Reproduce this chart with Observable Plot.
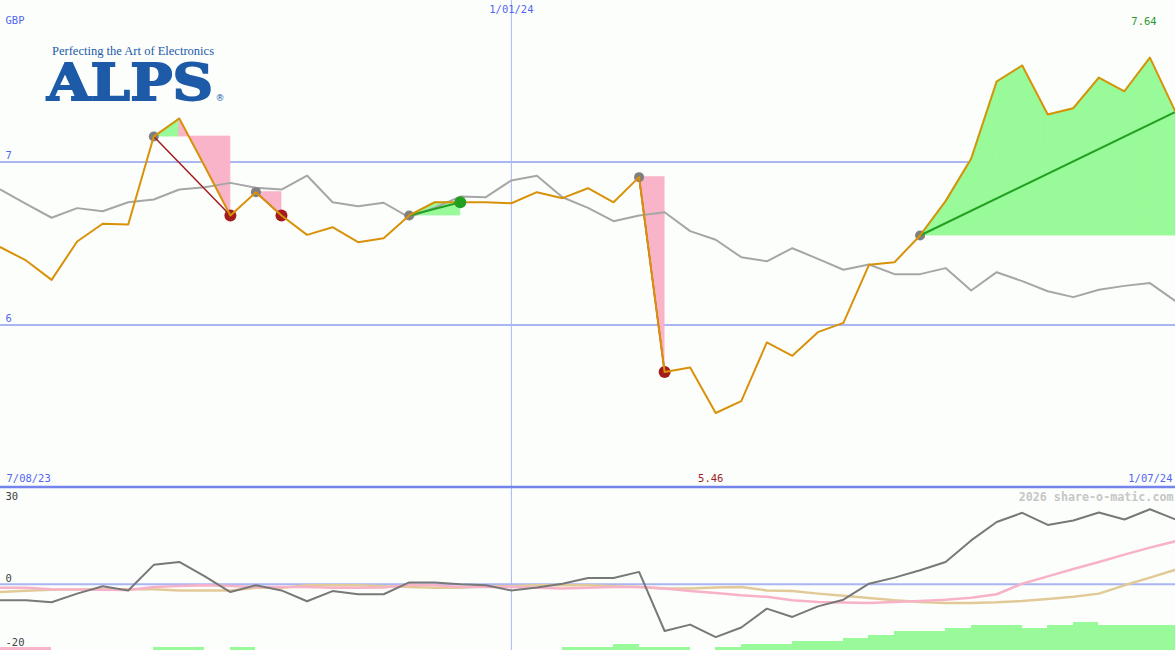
<!DOCTYPE html>
<html><head><meta charset="utf-8">
<script src="https://cdn.jsdelivr.net/npm/d3@7"></script>
<script src="https://cdn.jsdelivr.net/npm/@observablehq/plot@0.6"></script>
<style>
html,body{margin:0;padding:0;background:#fcfefc;}
#wrap{position:relative;width:1175px;height:650px;overflow:hidden;background:#fcfefc;}
#wrap > svg{display:block;}
#logo{position:absolute;left:0;top:0;pointer-events:none;}
</style></head><body><div id="wrap"></div>
<script>
// ---- data ----
const weeks = ["2023-08-14","2023-08-21","2023-08-28","2023-09-04","2023-09-11","2023-09-18","2023-09-25",
"2023-10-02","2023-10-09","2023-10-16","2023-10-23","2023-10-30","2023-11-06","2023-11-13","2023-11-20","2023-11-27",
"2023-12-04","2023-12-11","2023-12-18","2023-12-25","2024-01-01","2024-01-08","2024-01-15","2024-01-22","2024-01-29",
"2024-02-05","2024-02-12","2024-02-19","2024-02-26","2024-03-04","2024-03-11","2024-03-18","2024-03-25","2024-04-01",
"2024-04-08","2024-04-15","2024-04-22","2024-04-29","2024-05-06","2024-05-13","2024-05-20","2024-05-27","2024-06-03",
"2024-06-10","2024-06-17","2024-06-24","2024-07-01"];
const price = [6.477,6.396,6.277,6.512,6.621,6.617,7.156,7.267,6.972,6.672,6.815,6.672,6.553,6.600,6.508,6.532,
6.672,6.753,6.753,6.753,6.747,6.815,6.778,6.839,6.753,6.907,5.711,5.739,5.46,5.533,5.893,5.811,5.956,6.013,6.369,
6.385,6.549,6.760,7.020,7.494,7.592,7.291,7.330,7.518,7.434,7.64,7.308];
const indexLine = [6.831,6.743,6.658,6.717,6.698,6.753,6.770,6.831,6.845,6.872,6.842,6.831,6.917,6.753,6.728,6.750,
6.661,6.720,6.788,6.784,6.887,6.915,6.784,6.719,6.637,6.672,6.692,6.576,6.523,6.416,6.391,6.471,6.406,6.339,6.371,
6.312,6.312,6.349,6.212,6.324,6.269,6.207,6.171,6.216,6.240,6.257,6.146];
const momentum = [-5.0,-5.0,-5.6,-2.9,-0.6,-1.9,6.1,7.0,2.5,-2.4,-0.3,-1.9,-5.3,-2.1,-3.1,-3.1,0.6,0.6,0.0,-0.3,
-1.9,-1.0,0.2,2.0,2.0,3.9,-14.6,-12.6,-16.5,-13.5,-7.6,-10.2,-6.9,-4.8,0.2,2.1,4.4,7.0,13.75,19.5,22.4,18.6,20.0,
22.5,20.3,23.5,20.3];
const avgFast = [-1.1,-1.1,-1.5,-1.6,-1.7,-1.8,-0.8,-0.5,-0.3,-0.5,-0.8,-0.8,-0.8,-1.1,-1.1,-1.0,-0.1,-0.3,-0.8,-0.8,
-0.8,-1.1,-1.3,-1.1,-0.8,-0.8,-1.3,-2.1,-2.7,-3.4,-3.9,-5.0,-5.5,-5.7,-5.8,-5.5,-5.2,-4.8,-4.2,-3.1,0.2,2.5,4.8,
7.0,9.3,11.5,13.5];
const avgSlow = [-2.4,-2.0,-1.7,-1.6,-1.5,-1.5,-1.5,-1.9,-1.9,-1.9,-1.1,-1.1,-0.3,-0.3,-0.3,-0.6,-0.8,-1.1,-1.1,-0.6,
-0.6,-0.3,-0.3,-0.3,-0.6,-0.8,-1.3,-1.3,-1.0,-0.8,-1.9,-2.1,-2.9,-3.6,-4.3,-5.0,-5.5,-5.8,-5.8,-5.6,-5.2,-4.6,-3.9,
-2.9,-0.3,2.1,4.6];
const signalLevel = [-1,-1,0,0,0,0,1,1,0,1,0,0,0,0,0,0,0,0,0,0,0,0,1,1,2,1,1,0,1,2,2,3,3,4,5,6,6,7,8,8,7,8,9,8,8,8];
const tradeEntries = ["2023-09-25","2023-10-23","2023-12-04","2024-02-05","2024-04-22"];
const tradeExits   = ["2023-10-16","2023-10-30","2023-12-18","2024-02-12", null];
const priceTicks = [7, 6];
const lowTicks = [30, 0, -20];
const dateMarker = "2024-01-01";
const dateMarkerLabel = "1/01/24";
const edgeLabels = ["7/08/23", "1/07/24"];
const currency = "GBP";
const watermark = "2026 share-o-matic.com";
const logoTagline = "Perfecting the Art of Electronics";
const logoName = "ALPS";

// ---- derived tables ----
const D = s => new Date(s + "T00:00:00Z");
const dates = weeks.map(D);
const rows = dates.map((d, i) => ({date: d, price: price[i], idx: indexLine[i], mom: momentum[i], fast: avgFast[i], slow: avgSlow[i]}));
const last = weeks.length - 1;
const trades = tradeEntries.map((e, t) => {
  const i0 = weeks.indexOf(e);
  const i1 = tradeExits[t] ? weeks.indexOf(tradeExits[t]) : last;
  const base = price[i0], end = price[i1];
  return {i0, i1, base, end, win: end > base, open: !tradeExits[t], d0: dates[i0], d1: dates[i1]};
});
const segPts = [];
trades.forEach((tr, t) => {
  for (let i = tr.i0; i < tr.i1; i++) {
    const up = price[i + 1] > tr.base;
    segPts.push({seg: t + "-" + i, up, date: dates[i], base: tr.base, v: price[i]});
    segPts.push({seg: t + "-" + i, up, date: dates[i + 1], base: tr.base, v: price[i + 1]});
  }
});
const bars = signalLevel.map((lv, i) => ({d0: dates[i], d1: dates[i + 1], lv}));
const iMax = price.indexOf(d3.max(price)), iMin = price.indexOf(d3.min(price));

const BLUE = "#5266f0", GRID = "#a9b6f2", AXIS = "#7384ec";
const GREEN_FILL = "#98fa98", PINK_FILL = "#f9b4c9";
const ORANGE = "#d8920a", GREY = "#a6a6a6";
const DARKRED = "#a31c1c", GREEN = "#22a022";
const font = "DejaVu Sans Mono";
const xScale = {type: "utc", domain: [dates[0], dates[last]], range: [0, 1175], axis: null};

const main = Plot.plot({
  width: 1175, height: 489, margin: 0,
  style: {background: "#fcfefc", fontFamily: font, fontSize: "10.5px"},
  x: xScale,
  y: {domain: [5, 8], range: [487.5, -1.5], axis: null},
  color: {type: "identity"},
  marks: [
    Plot.ruleY(priceTicks, {stroke: GRID, strokeWidth: 2}),
    Plot.ruleX([D(dateMarker)], {stroke: GRID, strokeWidth: 1}),
    Plot.areaY(segPts.filter(p => p.up), {x: "date", y1: "base", y2: "v", z: "seg", fill: GREEN_FILL, stroke: GREEN_FILL, strokeWidth: 0.8, curve: "linear"}),
    Plot.areaY(segPts.filter(p => !p.up), {x: "date", y1: "base", y2: "v", z: "seg", fill: PINK_FILL, stroke: PINK_FILL, strokeWidth: 0.8, curve: "linear"}),
    Plot.line(rows, {x: "date", y: "idx", stroke: GREY, strokeWidth: 2}),
    Plot.dot(trades, {x: "d0", y: "base", r: 5, fill: "#808080"}),
    Plot.dot(trades.filter(t => !t.open && !t.win), {x: "d1", y: "end", r: 6, fill: DARKRED}),
    Plot.link(trades, {x1: "d0", y1: "base", x2: "d1", y2: "end", stroke: t => t.win ? GREEN : DARKRED, strokeWidth: t => t.win ? 2 : 1.5}),
    Plot.line(rows, {x: "date", y: "price", stroke: ORANGE, strokeWidth: 2}),
    Plot.dot(trades.filter(t => !t.open && t.win), {x: "d1", y: "end", r: 6, fill: GREEN}),
    Plot.ruleY([5], {stroke: AXIS, strokeWidth: 2.5, dy: -1}),
    Plot.text(priceTicks, {y: d => d, frameAnchor: "left", textAnchor: "start", lineAnchor: "middle", dx: 5, dy: -6, text: d => String(d), fill: BLUE}),
    Plot.text([currency], {frameAnchor: "top-left", textAnchor: "start", lineAnchor: "middle", dx: 5, dy: 20.5, text: d => d, fill: BLUE}),
    Plot.text([D(dateMarker)], {x: d => d, frameAnchor: "top", lineAnchor: "middle", dy: 9.5, text: () => dateMarkerLabel, fill: BLUE}),
    Plot.text([rows[iMax]], {x: "date", frameAnchor: "top", lineAnchor: "middle", dx: -6, dy: 21, text: d => d.price.toFixed(2), fill: "#2a9a2a"}),
    Plot.text([rows[iMin]], {x: "date", frameAnchor: "bottom", lineAnchor: "middle", dx: -5, dy: -10.5, text: d => d.price.toFixed(2), fill: "#a01c1c"}),
    Plot.text([edgeLabels[0]], {frameAnchor: "bottom-left", textAnchor: "start", lineAnchor: "middle", dx: 6, dy: -10.5, text: d => d, fill: BLUE}),
    Plot.text([edgeLabels[1]], {frameAnchor: "bottom-right", textAnchor: "end", lineAnchor: "middle", dx: -3, dy: -10.5, text: d => d, fill: BLUE})
  ]
});

const lowFloor = -20.7;
const lower = Plot.plot({
  width: 1175, height: 161, margin: 0,
  style: {background: "#fcfefc", fontFamily: font, fontSize: "10.5px"},
  x: xScale,
  y: {domain: [lowFloor, 30], range: [161, -1], axis: null},
  color: {type: "identity"},
  marks: [
    Plot.rect(bars.filter(b => b.lv !== 0), {x1: "d0", x2: "d1", y1: lowFloor, y2: b => lowFloor + Math.abs(b.lv) * 0.97, fill: b => b.lv > 0 ? GREEN_FILL : PINK_FILL, shapeRendering: "crispEdges"}),
    Plot.ruleY([0], {stroke: GRID, strokeWidth: 2}),
    Plot.ruleX([D(dateMarker)], {stroke: GRID, strokeWidth: 1}),
    Plot.line(rows, {x: "date", y: "slow", stroke: "#e2ca98", strokeWidth: 2.5}),
    Plot.line(rows, {x: "date", y: "fast", stroke: "#f8b2c8", strokeWidth: 2.5}),
    Plot.line(rows, {x: "date", y: "mom", stroke: "#787878", strokeWidth: 2}),
    Plot.text([lowTicks[0]], {frameAnchor: "top-left", textAnchor: "start", lineAnchor: "middle", dx: 5, dy: 7.5, text: d => String(d), fill: "#404040"}),
    Plot.text(lowTicks.slice(1), {y: d => d, frameAnchor: "left", textAnchor: "start", lineAnchor: "middle", dx: 5, dy: -6, text: d => String(d), fill: "#404040"}),
    Plot.text([watermark], {frameAnchor: "top-right", textAnchor: "end", lineAnchor: "middle", dx: -2, dy: 8, text: d => d, fill: "#c6c6c6", fontWeight: "bold", fontSize: 11.7})
  ]
});

const wrap = document.getElementById("wrap");
wrap.appendChild(main);
wrap.appendChild(lower);

// logo (text-based)
const ns = "http://www.w3.org/2000/svg";
const logo = document.createElementNS(ns, "svg");
logo.setAttribute("id", "logo");
logo.setAttribute("width", 1175); logo.setAttribute("height", 120);
function t(txt, attrs) {
  const el = document.createElementNS(ns, "text");
  for (const k in attrs) el.setAttribute(k, attrs[k]);
  el.textContent = txt; logo.appendChild(el);
}
t(logoTagline, {x: 52, y: 54.5, "font-family": "Liberation Serif", "font-size": 12.8, fill: "#1d5ba8", textLength: 162, lengthAdjust: "spacingAndGlyphs"});
t(logoName, {x: 47, y: 100, "font-family": "DejaVu Serif", "font-weight": "bold", "font-size": 50, fill: "#1d5ba8", stroke: "#1d5ba8", "stroke-width": 1.8, textLength: 166, lengthAdjust: "spacingAndGlyphs"});
t("\u00AE", {x: 215.5, y: 101, "font-family": "DejaVu Sans", "font-size": 9, fill: "#1d5ba8"});
wrap.appendChild(logo);
</script></body></html>
